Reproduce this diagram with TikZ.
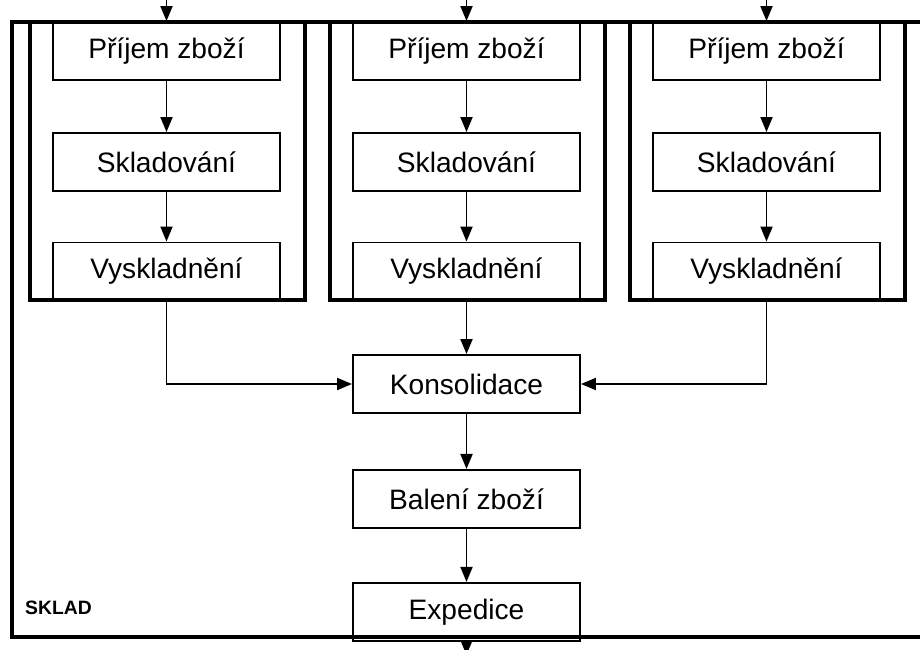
\documentclass[tikz,border=0pt]{standalone}
\usepackage{fontspec}
\setmainfont{Liberation Sans}
\usetikzlibrary{arrows.meta,positioning}

\begin{document}
\begin{tikzpicture}
[font=\fontsize{16}{19}\selectfont,
      krok/.style={draw,line width=1.1pt,minimum width=4.54cm,
      minimum height=1.16cm,inner sep=0pt},
      ramec/.style={line width=2.4pt},
      sipka/.style={-{Triangle[length=3mm,width=2.4mm]},line width=1.1pt}]
 \useasboundingbox (0,0) rectangle (18.4,-13);
 % three receiving lines
 \foreach \n/\x in {1/3.33,2/9.33,3/15.33} {
  \node[krok] (prijem\n) at (\x,-1.02) {Příjem zboží};
  \node[krok] (sklad\n) at (\x,-3.24) {Skladování};
  \node[krok] (vysk\n) at (\x,-5.43) {Vyskladnění};
  \draw[ramec] (\x-2.73,-0.44) rectangle (\x+2.77,-6.0);
  \coordinate (vstup\n) at (\x,0.1);
  \draw[sipka] (vstup\n) -- (prijem\n.north);
  \draw[sipka] (prijem\n) -- (sklad\n);
  \draw[sipka] (sklad\n) -- (vysk\n);
 }
 % shipping
 \node[krok] (konsol) at (9.33,-7.68) {Konsolidace};
 \node[krok,below=1.1cm of konsol] (baleni) {Balení zboží};
 \node[krok,below=1.06cm of baleni] (exped) {Expedice};
 \coordinate (vystup) at (9.33,-13.1);
 \draw[sipka] (vysk2) -- (konsol);
 \draw[sipka] (vysk1) |- (konsol);
 \draw[sipka] (vysk3) |- (konsol);
 \draw[sipka] (konsol) -- (baleni);
 \draw[sipka] (baleni) -- (exped);
 \draw[sipka] (exped) -- (vystup);
 % sklad
 \draw[ramec] (18.6,-0.44) -- (0.24,-0.44) -- (0.24,-12.74) -- (18.6,-12.74);
 \node[anchor=west,font=\bfseries\fontsize{11}{13}\selectfont] (sklad) at (0.38,-12.16) {SKLAD};
\end{tikzpicture}
\end{document}
